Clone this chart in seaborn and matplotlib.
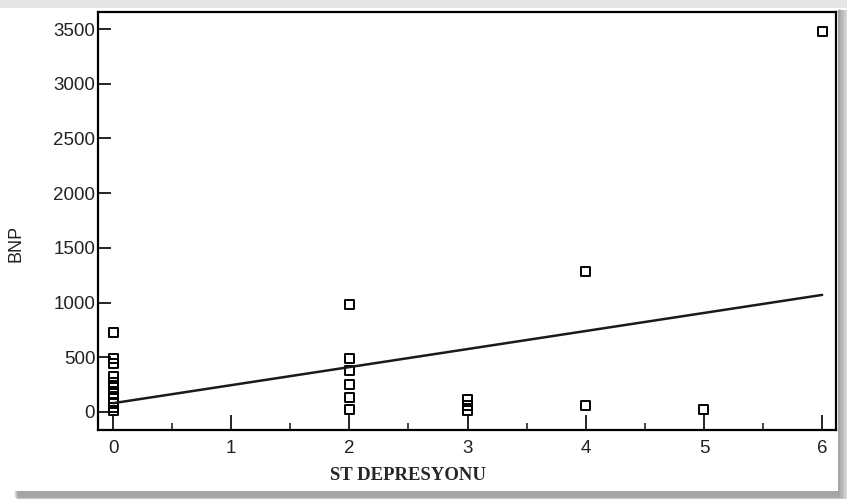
import matplotlib
matplotlib.use("Agg")
import matplotlib.pyplot as plt
import seaborn as sns
import pandas as pd
from matplotlib.patches import Rectangle
from matplotlib.ticker import MultipleLocator

# ---- data ----
st_x0 = [0] * 11
bnp_x0 = [730, 490, 440, 320, 270, 220, 170, 120, 80, 40, 10]
st_x2 = [2] * 6
bnp_x2 = [980, 490, 380, 250, 130, 20]
st_x3 = [3] * 3
bnp_x3 = [110, 60, 10]
st_x4 = [4] * 2
bnp_x4 = [1280, 60]
st_x5 = [5]
bnp_x5 = [20]
st_x6 = [6]
bnp_x6 = [3480]

fit_x = [0, 6]
fit_y = [80, 1070]

x_ticks = [0, 1, 2, 3, 4, 5, 6]
y_ticks = [0, 500, 1000, 1500, 2000, 2500, 3000, 3500]

df = pd.DataFrame({
    "ST": st_x0 + st_x2 + st_x3 + st_x4 + st_x5 + st_x6,
    "BNP": bnp_x0 + bnp_x2 + bnp_x3 + bnp_x4 + bnp_x5 + bnp_x6,
})
fit = pd.DataFrame({"ST": fit_x, "BNP": fit_y})

sns.set_style("white")
plt.rcParams["font.family"] = ["Liberation Sans", "DejaVu Sans"]

W, H = 847, 499
fig = plt.figure(figsize=(W / 100, H / 100), dpi=100)
fig.patch.set_facecolor("white")

# card with soft shadow
for i in range(8):
    fig.patches.append(Rectangle(((14 + i * 0.5) / W, (2 - i * 0.6) / H),
                                 (826 + i * 0.9) / W, (488 + i * 0.4) / H,
                                 transform=fig.transFigure, facecolor="black",
                                 edgecolor="none", alpha=0.05, zorder=0))
fig.patches.append(Rectangle((0, 491 / H), 1, 8 / H, transform=fig.transFigure,
                             facecolor="#e6e6e6", edgecolor="none", zorder=0))
fig.patches.append(Rectangle((10 / W, 8 / H), 828 / W, 483 / H,
                             transform=fig.transFigure, facecolor="white",
                             edgecolor="none", zorder=1))

ax = fig.add_axes([98 / W, (H - 430) / H, (836 - 98) / W, (430 - 12) / H])
ax.set_facecolor("white")
ax.set_zorder(2)

sns.scatterplot(data=df, x="ST", y="BNP", ax=ax, marker="s", s=42,
                facecolor="none", edgecolor="black", linewidth=1.4, zorder=3)
sns.lineplot(data=fit, x="ST", y="BNP", ax=ax, color="#1a1a1a", linewidth=1.8,
             zorder=4)

ax.set_xlim(-0.127, 6.117)
ax.set_ylim(-165, 3656)
ax.set_xticks(x_ticks)
ax.set_yticks(y_ticks)
ax.xaxis.set_minor_locator(MultipleLocator(0.5))

for s in ax.spines.values():
    s.set_linewidth(1.6)
    s.set_color("black")

ax.tick_params(axis="x", which="major", direction="in", length=11, width=1.2,
               labelsize=13.5, pad=7, colors="black", bottom=True)
ax.tick_params(axis="x", which="minor", direction="in", length=5, width=1.2,
               bottom=True)
ax.tick_params(axis="y", which="major", direction="in", length=9, width=1.2,
               labelsize=13.5, pad=2, colors="black", left=True)
for lab in ax.get_xticklabels() + ax.get_yticklabels():
    lab.set_color("#222222")

ax.set_ylabel("BNP", fontsize=13, family=["Liberation Sans"], color="#222222")
ax.yaxis.set_label_coords(-0.1, 0.447)
ax.set_xlabel("ST DEPRESYONU", fontsize=13.5, fontweight="bold",
              family=["Liberation Serif"])
ax.xaxis.set_label_coords(0.42, -0.088)

fig.savefig("out.png", dpi=100, facecolor=fig.get_facecolor())
